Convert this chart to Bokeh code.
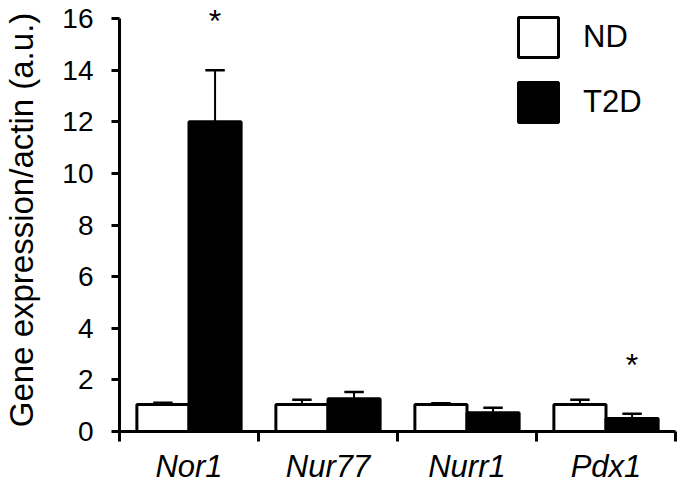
from bokeh.plotting import figure
from bokeh.models import Range1d, FixedTicker, Label
from bokeh.embed import file_html
from bokeh.resources import INLINE

# ---- data ----
categories = ["Nor1", "Nur77", "Nurr1", "Pdx1"]
series = ["ND", "T2D"]
nd = [1.05, 1.05, 1.05, 1.05]
nd_err = [0.06, 0.18, 0.04, 0.18]
t2d = [12.0, 1.27, 0.73, 0.50]
t2d_err = [2.0, 0.26, 0.19, 0.19]
t2d_significant = [True, False, False, True]
y_ticks = [0, 2, 4, 6, 8, 10, 12, 14, 16]

FONT = "Liberation Sans"
BAR_W = 0.375
CAP_HALF = 0.07

# layout (pixels in the 680x487 canvas)
W, H = 680, 487
FRAME_TOP, FRAME_BOTTOM = 8, 431
Y_TOP_TICK_PX = 18          # where the 16 tick sits
px_per_unit = (FRAME_BOTTOM - Y_TOP_TICK_PX) / y_ticks[-1]
y_end = y_ticks[-1] + (Y_TOP_TICK_PX - FRAME_TOP) / px_per_unit

n = len(categories)
centers = [i + 0.5 for i in range(n)]
x_nd = [c - BAR_W / 2 for c in centers]
x_t2d = [c + BAR_W / 2 for c in centers]

p = figure(width=W, height=H, output_backend="svg", toolbar_location=None,
           x_range=Range1d(0, n), y_range=Range1d(0, y_end),
           min_border_left=119, min_border_right=5, min_border_top=FRAME_TOP,
           min_border_bottom=H - FRAME_BOTTOM)
p.outline_line_color = None
p.xgrid.grid_line_color = None
p.ygrid.grid_line_color = None
p.background_fill_color = "white"
p.border_fill_color = "white"

# bars
p.vbar(x=x_nd, top=nd, width=BAR_W, bottom=0, fill_color="white", line_color="black",
       line_width=3, legend_label=series[0])
p.vbar(x=x_t2d, top=t2d, width=BAR_W, bottom=0, fill_color="black", line_color="black",
       line_width=3, legend_label=series[1])

# error bars (upper only)
for xs, vals, errs in ((x_nd, nd, nd_err), (x_t2d, t2d, t2d_err)):
    tops = [v + e for v, e in zip(vals, errs)]
    p.segment(x0=xs, y0=vals, x1=xs, y1=tops, line_color="black", line_width=2)
    p.segment(x0=[x - CAP_HALF for x in xs], y0=tops, x1=[x + CAP_HALF for x in xs], y1=tops,
              line_color="black", line_width=2.5)

# significance asterisks
for x, v, e, s in zip(x_t2d, t2d, t2d_err, t2d_significant):
    if s:
        p.add_layout(Label(x=x, y=v + e, y_offset=49, text="*", text_align="center",
                           text_baseline="alphabetic", text_font=FONT, text_font_size="32px",
                           text_color="black"))

# x axis: category names centred, ticks (minor) at the category boundaries
xa = p.xaxis[0]
xa.ticker = FixedTicker(ticks=centers, minor_ticks=list(range(n + 1)))
xa.major_label_overrides = {c: lab for c, lab in zip(centers, categories)}
xa.major_tick_line_color = None
xa.major_tick_out = 10
xa.major_tick_in = 0
xa.minor_tick_out = 10
xa.minor_tick_in = 0
xa.minor_tick_line_width = 3
xa.minor_tick_line_color = "black"
xa.axis_line_width = 3
xa.axis_line_color = "black"
xa.major_label_standoff = 7
xa.major_label_text_font = FONT
xa.major_label_text_font_size = "31px"
xa.major_label_text_font_style = "italic"
xa.major_label_text_color = "black"

# y axis (line stops at the last tick)
ya = p.yaxis[0]
ya.ticker = FixedTicker(ticks=y_ticks)
ya.bounds = (y_ticks[0], y_ticks[-1])
ya.minor_tick_line_color = None
ya.major_tick_out = 8
ya.major_tick_in = 0
ya.major_tick_line_width = 3
ya.major_tick_line_color = "black"
ya.axis_line_width = 3
ya.axis_line_color = "black"
ya.major_label_standoff = 18
ya.major_label_text_font = FONT
ya.major_label_text_font_size = "28px"
ya.major_label_text_color = "black"
ya.axis_label = "Gene expression/actin (a.u.)"
ya.axis_label_text_font = FONT
ya.axis_label_text_font_size = "33px"
ya.axis_label_text_font_style = "normal"
ya.axis_label_text_color = "black"
ya.axis_label_standoff = 19

# legend
lg = p.legend[0]
lg.location = (394, 304)
lg.glyph_width = 50
lg.glyph_height = 50
lg.label_standoff = 20
lg.spacing = 15
lg.padding = 0
lg.margin = 0
lg.border_line_color = None
lg.background_fill_alpha = 0
lg.label_text_font = FONT
lg.label_text_font_size = "31px"
lg.label_text_color = "black"

open("out.html", "w").write(file_html(p, INLINE))
